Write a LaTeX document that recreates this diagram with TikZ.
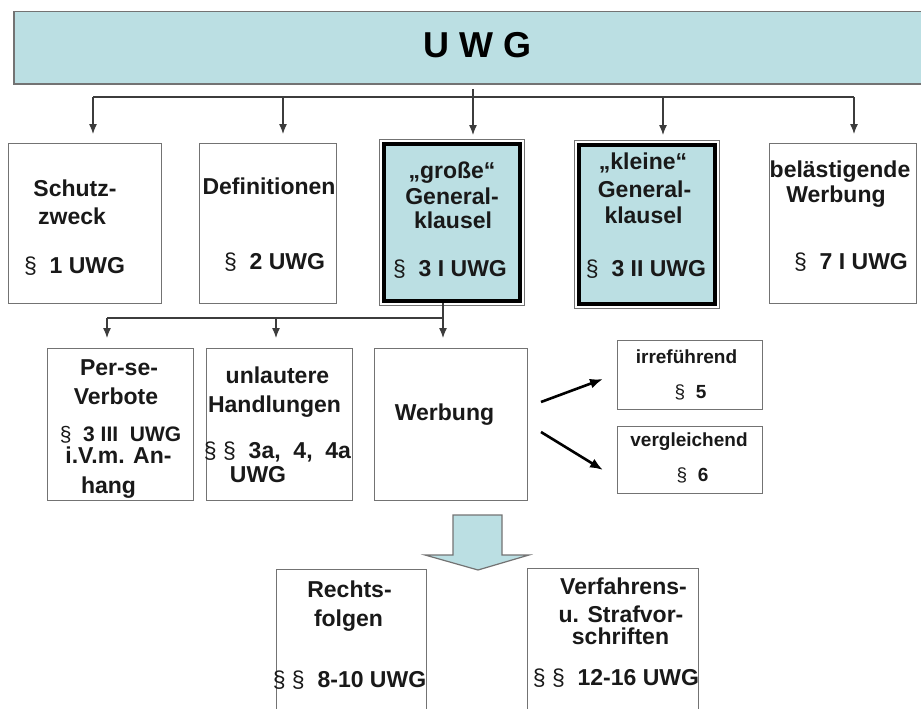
\documentclass[tikz,border=0pt]{standalone}
\usepackage{fontspec}
\setmainfont{Liberation Sans}
\usepackage{graphicx}
\usetikzlibrary{arrows.meta,calc}
\definecolor{lblue}{RGB}{187,223,227}
\definecolor{boxgray}{RGB}{115,115,115}
\definecolor{linegray}{RGB}{60,60,60}
\definecolor{textblk}{RGB}{25,25,25}
\newcommand\psec{{\mdseries\S}}
\tikzset{
  box/.style={draw=boxgray, line width=1.3pt, fill=white, inner sep=0pt, anchor=north west},
  bluebox/.style={draw=black, line width=4pt, fill=lblue, inner sep=0pt, anchor=north west},
  lbl/.style={font=\bfseries\fontsize{23}{27}\selectfont, text=textblk, anchor=base, inner sep=0pt},
  slbl/.style={font=\bfseries\fontsize{19}{23}\selectfont, text=textblk, anchor=base, inner sep=0pt},
  conn/.style={draw=linegray, line width=1.2pt},
  arr/.style={conn, -{Latex[length=10pt,width=8pt]}},
  bigarr/.style={draw=black, line width=2.6pt, -{Latex[length=13pt,width=10pt]}},
}
\begin{document}
\begin{tikzpicture}[x=1pt,y=-1pt]
\useasboundingbox (0,0) rectangle (921,709);

% banner
\node[draw=boxgray, line width=1.5pt, fill=lblue, anchor=north west, minimum width=915pt, minimum height=72pt, inner sep=0pt] (uwg) at (13,11) {};
\node[font=\bfseries\fontsize{36}{40}\selectfont, text=black, anchor=base, inner sep=0pt] (uwgt) at (477.5,58) {U\hspace{10pt}W\hspace{10pt}G};

% first row boxes
\node[box, minimum width=153pt, minimum height=160pt] (schutz) at (8,143) {};
\node[box, minimum width=137pt, minimum height=160pt] (defs) at (199,143) {};
\node[bluebox, minimum width=136pt, minimum height=157pt] (gross) at (382,142) {};
\node[bluebox, minimum width=136pt, minimum height=159pt] (klein) at (577,143) {};
\node[box, minimum width=147pt, minimum height=160pt] (bel) at (769,143) {};
\draw[boxgray, line width=1.5pt] ([xshift=-2.6pt,yshift=2.6pt]gross.north west) rectangle ([xshift=2.6pt,yshift=-2.6pt]gross.south east);
\draw[boxgray, line width=1.5pt] ([xshift=-2.6pt,yshift=2.6pt]klein.north west) rectangle ([xshift=2.6pt,yshift=-2.6pt]klein.south east);

\node[lbl] (t11) at (75,196) {Schutz-};
\node[lbl] (t12) at (72,224) {zweck};
\node[lbl] (t13) at (74.5,273) {\psec\ \ 1 UWG};
\node[lbl] (t21) at (269,194) {Definitionen};
\node[lbl] (t22) at (274.5,269) {\psec\ \ 2 UWG};
\node[lbl] (t31) at (452,178) {„große“};
\node[lbl] (t32) at (452,204) {General-};
\node[lbl] (t33) at (453,228) {klausel};
\node[lbl] (t34) at (450,276) {\psec\ \ 3 I UWG};
\node[lbl] (t41) at (643,169) {„kleine“};
\node[lbl] (t42) at (644.5,197) {General-};
\node[lbl] (t43) at (643.5,223) {klausel};
\node[lbl] (t44) at (646,276) {\psec\ \ 3 II UWG};
\node[lbl] (t51) at (840,177) {belästigende};
\node[lbl] (t52) at (836,202) {Werbung};
\node[lbl] (t53) at (851,269) {\psec\ \ 7 I UWG};

% top connectors
\coordinate (hub) at (473,89);
\coordinate (hc) at (473,97);
\coordinate (h1) at (93,97);
\coordinate (h2) at (283,97);
\coordinate (h4) at (663,97);
\coordinate (h5) at (854,97);
\draw[conn] (hub) -- (hc);
\draw[conn] (h1) -- (h5);
\draw[arr] (h1) -- ([yshift=9pt]h1 |- schutz.north);
\draw[arr] (h2) -- ([yshift=9pt]h2 |- defs.north);
\draw[arr] (hc) -- ([yshift=7pt]hc |- gross.north);
\draw[arr] (h4) -- ([yshift=8pt]h4 |- klein.north);
\draw[arr] (h5) -- ([yshift=9pt]h5 |- bel.north);

% second row
\node[box, minimum width=146pt, minimum height=152pt] (perse) at (47,348) {};
\node[box, minimum width=146pt, minimum height=152pt] (unl) at (206,348) {};
\node[box, minimum width=153pt, minimum height=152pt] (werb) at (374,348) {};
\node[box, minimum width=145pt, minimum height=69pt] (irr) at (617,340) {};
\node[box, minimum width=145pt, minimum height=67pt] (vgl) at (617,426) {};

\node[lbl] (p1) at (119,375) {Per-se-};
\node[lbl] (p2) at (116,404) {Verbote};
\node[lbl, font=\bfseries\fontsize{21}{25}\selectfont] (p3) at (120.5,441) {\psec\ \ 3 III\ \ UWG};
\node[lbl] (p4) at (118.5,463) {i.V.m. An-};
\node[lbl] (p5) at (108.5,493) {hang};
\node[lbl] (u1) at (277.5,383) {unlautere};
\node[lbl] (u2) at (274.5,412) {Handlungen};
\node[lbl] (u3) at (277.5,458) {\psec\ \psec\ \ 3a,\ \ 4,\ \ 4a};
\node[lbl] (u4) at (258,482) {UWG};
\node[lbl] (w1) at (444.5,420) {Werbung};
\node[slbl] (i1) at (686.5,363) {irreführend};
\node[slbl] (i2) at (690.5,398) {\psec\ \ 5};
\node[slbl] (v1) at (689,446) {vergleichend};
\node[slbl] (v2) at (692.5,481) {\psec\ \ 6};

% second connectors
\coordinate (g0) at (443,318);
\coordinate (g1) at (107,318);
\coordinate (g2) at (276,318);
\draw[conn] (gross.south -| g0) -- (g0);
\draw[conn] (g1) -- (g0);
\draw[arr] (g1) -- ([yshift=10pt]g1 |- perse.north);
\draw[arr] (g2) -- ([yshift=10pt]g2 |- unl.north);
\draw[arr] (g0) -- ([yshift=10pt]g0 |- werb.north);

% Werbung arrows
\coordinate (a1s) at (541,402);
\coordinate (a1e) at (603,379);
\coordinate (a2s) at (541,432);
\coordinate (a2e) at (603,470);
\draw[bigarr] (a1s) -- (a1e);
\draw[bigarr] (a2s) -- (a2e);

% block arrow
\draw[boxgray, line width=1.2pt, fill=lblue, line join=miter]
  (453,515) -- (502,515) -- (502,555) -- (529,555) -- (478,570) -- (425,555) -- (453,555) -- cycle;

% bottom boxes
\node[box, minimum width=150pt, minimum height=160pt] (rf) at (276,569) {};
\node[box, minimum width=171pt, minimum height=160pt] (vf) at (527,568) {};
\node[lbl] (r1) at (349.5,597) {Rechts-};
\node[lbl] (r2) at (348.5,626) {folgen};
\node[lbl] (r3) at (349.5,687) {\psec\ \psec\ \ 8-10 UWG};
\node[lbl] (f1) at (623.5,594) {Verfahrens-};
\node[lbl] (f2) at (621,622) {u. Strafvor-};
\node[lbl] (f3) at (620.5,644) {schriften};
\node[lbl] (f4) at (616,685) {\psec\ \psec\ \ 12-16 UWG};
\end{tikzpicture}
\end{document}
